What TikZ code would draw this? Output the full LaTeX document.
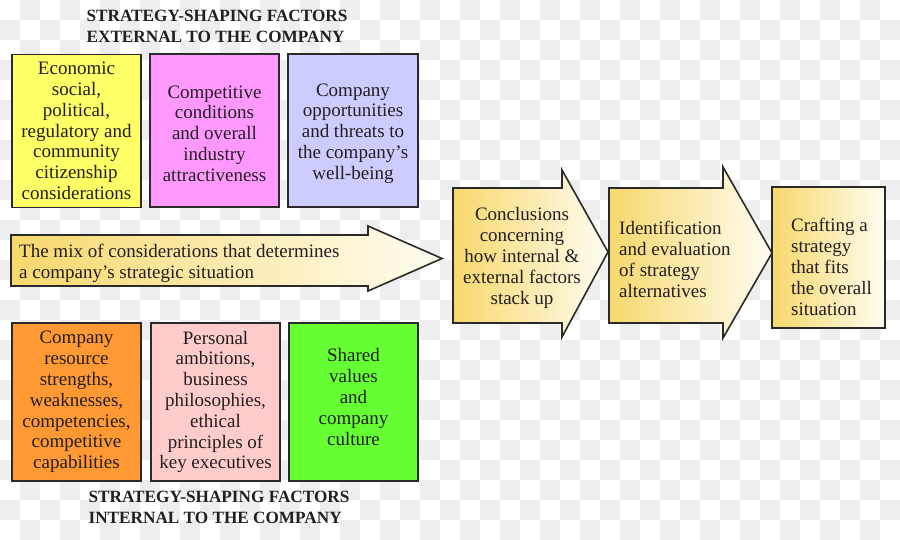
\documentclass[tikz,border=0pt]{standalone}
\usepackage{fontspec}
\setmainfont{Liberation Serif}
\definecolor{checkc}{HTML}{EEEEEE}
\definecolor{linec}{HTML}{2A2A2A}
\definecolor{textc}{HTML}{231F20}
\definecolor{yellowc}{HTML}{FFFF66}
\definecolor{magentac}{HTML}{FF99FF}
\definecolor{lavenderc}{HTML}{CCCCFF}
\definecolor{orangec}{HTML}{FF9933}
\definecolor{pinkc}{HTML}{FFCCCC}
\definecolor{greenc}{HTML}{66FF33}
\definecolor{goldc}{RGB}{247,216,108}
\definecolor{paleend}{RGB}{255,253,242}
\begin{document}
\begin{tikzpicture}[x=1pt,y=-1pt,
  bodyfont/.style={font=\fontsize{19}{20.8}\selectfont, text=textc},
  factorbox/.style={draw=linec, line width=1.6pt, inner sep=0pt, align=center, bodyfont},
  topbox/.style={factorbox, minimum height=153pt},
  botbox/.style={factorbox, minimum height=158pt},
  header/.style={font=\bfseries\fontsize{17.2}{21}\selectfont, text=textc, align=left, inner sep=0pt},
  flowshape/.style={draw=linec, line width=1.6pt, left color=goldc, right color=paleend},
  flowtext/.style={bodyfont, inner sep=0pt}
]
\useasboundingbox (0,0) rectangle (900,540);
\fill[white] (0,0) rectangle (900,540);
\foreach \i in {0,...,44} {
  \foreach \j in {0,...,26} {
    \pgfmathtruncatemacro{\parity}{mod(\i+\j,2)}
    \ifnum\parity=1 \fill[checkc] (\i*20,\j*20) rectangle ++(20,20); \fi
  }
}

% headers
\node[header] (exthead) at (217,26.5) {STRATEGY-SHAPING FACTORS\\EXTERNAL TO THE COMPANY};
\node[header] (inthead) at (219,507.5) {STRATEGY-SHAPING FACTORS\\INTERNAL TO THE COMPANY};

% external factor boxes
\node[topbox, fill=yellowc, minimum width=129pt] (e1) at (76.5,131)
  {Economic\\social,\\political,\\regulatory and\\community\\citizenship\\considerations};
\node[topbox, fill=magentac, minimum width=129pt] (e2) at (214.5,130.5) {};
\node[flowtext, align=center] (e2text) at (214.5,133.5)
  {Competitive\\conditions\\and overall\\industry\\attractiveness};
\node[topbox, fill=lavenderc, minimum width=130pt] (e3) at (353,130.5) {};
\node[flowtext, align=center] (e3text) at (353,133.5)
  {Company\\opportunities\\and threats to\\the company’s\\well-being};

% internal factor boxes
\node[botbox, fill=orangec, minimum width=129pt] (i1) at (76.5,402)
  {Company\\resource\\strengths,\\weaknesses,\\competencies,\\competitive\\capabilities};
\node[botbox, fill=pinkc, minimum width=129pt] (i2) at (215.5,402)
  {Personal\\ambitions,\\business\\philosophies,\\ethical\\principles of\\key executives};
\node[botbox, fill=greenc, minimum width=129pt] (i3) at (353.5,402) {};
\node[flowtext, align=center] (i3text) at (353.5,397)
  {Shared\\values\\and\\company\\culture};

% big arrow
\path[flowshape] (11,235) -- (368,235) -- (368,226) -- (442,258.5) -- (368,291) -- (368,286) -- (11,286) -- cycle;
\node[flowtext, anchor=west, align=left] (mix) at (19,263)
  {The mix of considerations that determines\\a company’s strategic situation};

% step arrows
\path[flowshape] (453,188) -- (562,188) -- (562,170) -- (608,252) -- (562,337) -- (562,323) -- (453,323) -- cycle;
\node[flowtext, align=center] (concl) at (522,258)
  {Conclusions\\concerning\\how internal \&\\external factors\\stack up};

\path[flowshape] (609,188) -- (723,188) -- (723,167) -- (772,253) -- (723,338) -- (723,323) -- (609,323) -- cycle;
\node[flowtext, anchor=west, align=left] (ident) at (619,259.5)
  {Identification\\and evaluation\\of strategy\\alternatives};

\path[flowshape] (772,187) rectangle (885,328);
\node[flowtext, anchor=west, align=left] (craft) at (791,267)
  {Crafting a\\strategy\\that fits\\the overall\\situation};
\end{tikzpicture}
\end{document}
